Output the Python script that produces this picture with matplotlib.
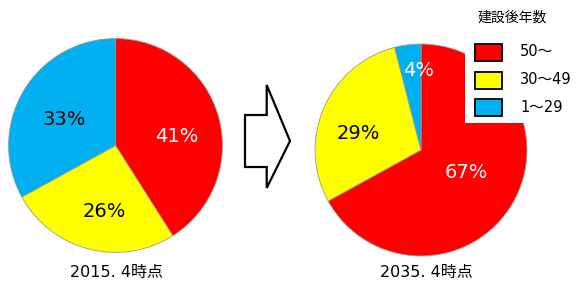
import matplotlib
matplotlib.use("Agg")
import matplotlib.pyplot as plt
from matplotlib.patches import Polygon, Rectangle

plt.rcParams['font.family'] = ['DejaVu Sans', 'Noto Sans CJK JP']

categories = ['50～', '30～49', '1～29']
colors = ['#FF0000', '#FFFF00', '#00B0F0']
values_2015 = [41, 26, 33]
values_2035 = [67, 29, 4]
titles = ['2015. 4時点', '2035. 4時点']
legend_title = '建設後年数'

W, H = 577, 286
fig = plt.figure(figsize=(W / 100, H / 100), dpi=100)

def pie_axes(cx, cy, r):
    return fig.add_axes([(cx - r) / W, (H - cy - r) / H, 2 * r / W, 2 * r / H])

pies = [
    (pie_axes(115.5, 145.5, 108), values_2015,
     [(0.57, 0.08), (-0.10, -0.62), (-0.48, 0.24)],
     ['white', 'black', 'black']),
    (pie_axes(421, 150, 107), values_2035,
     [(0.43, -0.21), (-0.59, 0.16), (-0.02, 0.75)],
     ['white', 'black', 'white']),
]

for ax, vals, lpos, lcols in pies:
    ax.pie(vals, colors=colors, startangle=90, counterclock=False,
           radius=1.0, wedgeprops=dict(edgecolor='#999999', linewidth=0.6))
    ax.set_xlim(-1.01, 1.01)
    ax.set_ylim(-1.01, 1.01)
    ax.axis('off')
    for v, (x, y), c in zip(vals, lpos, lcols):
        ax.text(x, y, f'{v}%', ha='center', va='center', fontsize=14, color=c)

# overlay in pixel coordinates
ov = fig.add_axes([0, 0, 1, 1], zorder=10)
ov.set_xlim(0, W)
ov.set_ylim(H, 0)
ov.axis('off')
ov.patch.set_alpha(0)

# arrow
arrow = [(245, 115), (266.7, 115), (266.7, 85), (290, 141),
         (266.7, 188), (266.7, 167), (245, 167)]
ov.add_patch(Polygon(arrow, closed=True, facecolor='white',
                     edgecolor='black', linewidth=1.6, joinstyle='miter'))

# legend background
ov.add_patch(Rectangle((465, 0), 112, 123, facecolor='white', edgecolor='none'))
ov.text(512, 18, legend_title, ha='center', va='center', fontsize=10)
box_y = [52, 80, 107.5]
for c, lab, y in zip(colors, categories, box_y):
    ov.add_patch(Rectangle((475, y - 8.5), 27, 17, facecolor=c,
                           edgecolor='black', linewidth=1.3))
    ov.text(520, y, lab, ha='left', va='center', fontsize=10.5)

ov.text(116, 272, titles[0], ha='center', va='center', fontsize=11.5)
ov.text(426, 272, titles[1], ha='center', va='center', fontsize=11.5)

fig.savefig('out.png', dpi=100)
